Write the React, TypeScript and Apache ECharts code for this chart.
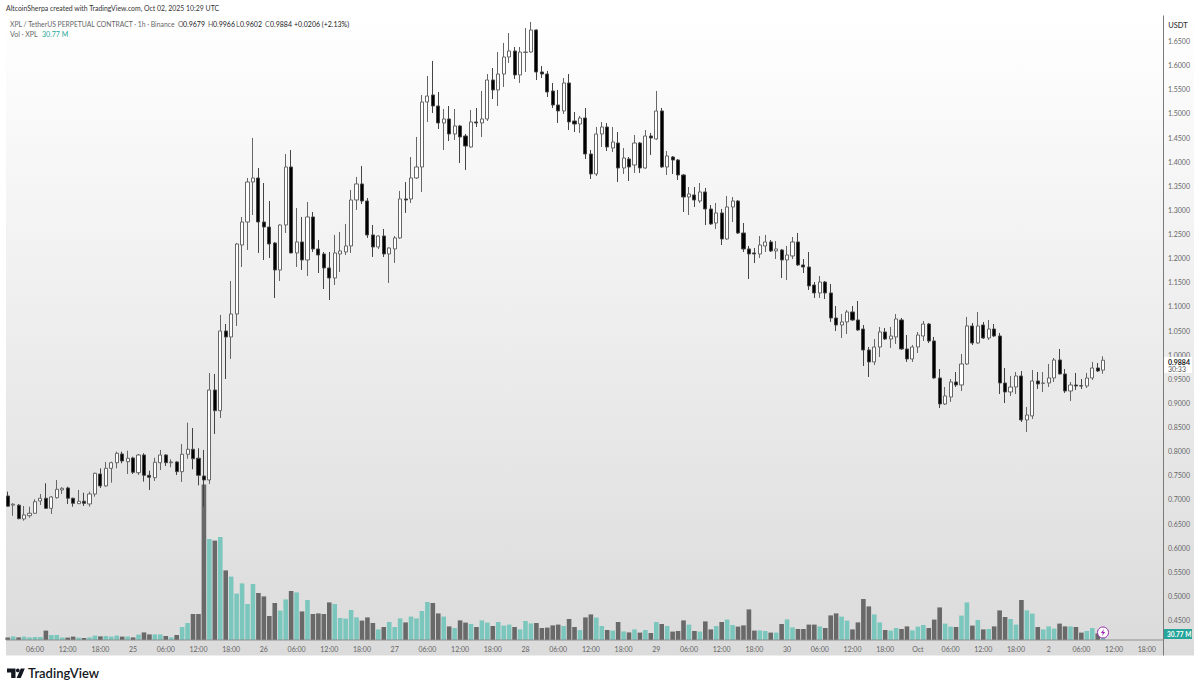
import React, { useEffect, useRef } from "react";
import * as echarts from "echarts";

const opens = [
  0.707,0.688,0.688,0.6594,0.6662,0.6712,0.6967,0.7023,0.6815,0.7035,
  0.7195,0.7236,0.7023,0.6911,0.6961,0.6905,0.7112,0.7526,0.7278,0.7644,
  0.776,0.7941,0.7781,0.7858,0.7553,0.792,0.7499,0.7449,0.776,0.792,
  0.776,0.7775,0.7574,0.7935,0.8038,0.7852,0.7485,0.7402,0.9267,0.8838,
  1.049,1.0366,1.0842,1.2272,1.2749,1.3578,1.3661,1.2749,1.2645,1.2314,
  1.1754,1.2687,1.3889,1.2107,1.2335,1.1962,1.2853,1.219,1.2086,1.1796,
  1.1588,1.2086,1.2127,1.2252,1.3205,1.3537,1.3184,1.248,1.2231,1.2459,
  1.2086,1.219,1.2418,1.3226,1.3226,1.3661,1.3889,1.5236,1.5381,1.5153,
  1.4801,1.4884,1.4573,1.4739,1.4531,1.4303,1.4822,1.4801,1.4884,1.5692,
  1.5485,1.5816,1.6169,1.6293,1.5796,1.6262,1.6272,1.6728,1.5858,1.5816,
  1.5464,1.5174,1.505,1.563,1.4842,1.478,1.4904,1.4158,1.3744,1.4573,
  1.4718,1.4283,1.4386,1.3868,1.4055,1.393,1.4386,1.3868,1.4531,1.4469,
  1.505,1.3889,1.4096,1.4034,1.3723,1.3267,1.3309,1.3184,1.3371,1.3018,
  1.2728,1.2936,1.2397,1.306,1.3184,1.2521,1.219,1.2107,1.2086,1.2252,
  1.2335,1.2148,1.2169,1.1962,1.2045,1.2335,1.1858,1.1816,1.1443,1.1278,
  1.1505,1.1278,1.0759,1.0614,1.0677,1.0884,1.0718,1.0531,1.0096,0.9848,
  1.0158,1.0469,1.0324,1.0366,1.0718,1.0117,0.991,1.0158,1.0386,1.0635,
  1.0283,0.9516,0.8977,0.9122,0.9433,0.9371,0.9806,1.0594,1.0241,1.0614,
  1.0345,1.0531,1.0386,0.9412,0.9226,0.9329,0.9557,0.8646,0.8729,0.9454,
  0.9405,0.9412,0.9516,0.9889,0.9599,0.9246,0.9371,0.9355,0.935,0.9516,
  0.9723,0.9679,
];
const closes = [
  0.686,0.69,0.66,0.6677,0.6712,0.6952,0.7023,0.6815,0.705,0.7209,
  0.723,0.7023,0.6919,0.6961,0.6919,0.7112,0.7541,0.7278,0.7644,0.776,
  0.7955,0.7796,0.7852,0.7562,0.792,0.7499,0.7458,0.7769,0.792,0.776,
  0.7775,0.7574,0.7935,0.8038,0.7843,0.7499,0.7402,0.9267,0.8838,1.049,
  1.0366,1.0842,1.2293,1.2749,1.3578,1.3661,1.2749,1.2645,1.2293,1.1754,
  1.2687,1.3889,1.2107,1.2335,1.1962,1.2853,1.219,1.2065,1.1796,1.1588,
  1.2107,1.2148,1.2252,1.3205,1.3537,1.3184,1.248,1.2231,1.2459,1.2086,
  1.221,1.2418,1.3226,1.3205,1.3661,1.3889,1.5236,1.536,1.5153,1.4801,
  1.4884,1.4573,1.4739,1.4511,1.4324,1.4822,1.4801,1.4884,1.5692,1.5485,
  1.5816,1.6169,1.6293,1.5796,1.6272,1.6272,1.6728,1.5858,1.5816,1.5443,
  1.5174,1.505,1.563,1.4822,1.478,1.4904,1.4158,1.3744,1.4573,1.4718,
  1.4303,1.4407,1.3868,1.4075,1.3889,1.4386,1.3868,1.4531,1.449,1.505,
  1.3889,1.4117,1.4034,1.3723,1.3267,1.3329,1.3205,1.3371,1.3018,1.2708,
  1.2936,1.2397,1.306,1.3184,1.2521,1.219,1.2086,1.2086,1.2272,1.2335,
  1.2148,1.219,1.1962,1.2065,1.2335,1.1858,1.1816,1.1423,1.1278,1.1505,
  1.1278,1.0759,1.0614,1.0677,1.0884,1.0718,1.0511,1.0096,0.9848,1.0158,
  1.0469,1.0324,1.0386,1.0739,1.0117,0.991,1.0158,1.0407,1.0635,1.0283,
  0.9516,0.8977,0.9143,0.9433,0.9371,0.9806,1.0594,1.0241,1.0594,1.0345,
  1.0531,1.0386,0.9412,0.9226,0.9329,0.9557,0.8646,0.8749,0.9454,0.9392,
  0.9412,0.9516,0.9889,0.9599,0.9246,0.9371,0.935,0.935,0.9516,0.9723,
  0.9661,0.9884,
];
const lows = [
  0.685,0.666,0.659,0.6559,0.6621,0.6697,0.6884,0.6801,0.6697,0.7015,
  0.7112,0.6905,0.6849,0.6905,0.6863,0.6849,0.7056,0.7236,0.7263,0.7346,
  0.7644,0.7748,0.7526,0.7526,0.7506,0.7367,0.7195,0.7381,0.7609,0.7692,
  0.7665,0.7506,0.7361,0.7843,0.7624,0.7292,0.6849,0.7319,0.8355,0.8687,
  0.9495,0.991,1.0594,1.1816,1.2169,1.2894,1.2107,1.1962,1.2003,1.1174,
  1.1526,1.2521,1.21,1.1816,1.1754,1.163,1.2127,1.1692,1.136,1.1132,
  1.1443,1.1713,1.2065,1.2107,1.2998,1.3122,1.2418,1.2024,1.219,1.2024,
  1.1485,1.1899,1.24,1.2936,1.3143,1.364,1.3371,1.4822,1.5008,1.4676,
  1.4241,1.4428,1.4449,1.3972,1.3827,1.429,1.4718,1.4511,1.4842,1.5298,
  1.5153,1.5547,1.6044,1.5713,1.563,1.5858,1.626,1.5692,1.5733,1.534,
  1.5112,1.4801,1.4987,1.4656,1.4614,1.4594,1.4055,1.364,1.3702,1.4303,
  1.422,1.42,1.3578,1.3744,1.3599,1.3765,1.3765,1.385,1.4138,1.445,
  1.387,1.3723,1.3744,1.362,1.2956,1.2894,1.306,1.3143,1.2687,1.269,
  1.2604,1.2272,1.238,1.2749,1.25,1.2127,1.1568,1.1899,1.2003,1.2127,
  1.2127,1.1982,1.1588,1.1547,1.1982,1.184,1.1692,1.134,1.1174,1.1174,
  1.1153,1.0677,1.049,1.0345,1.0428,1.07,1.049,0.9765,0.9537,0.9785,
  0.9951,1.0303,1.0138,1.0221,1.01,0.9848,0.9848,1.0034,1.0283,1.0241,
  0.95,0.8894,0.8956,0.9019,0.9329,0.9246,0.979,1.02,1.0225,1.0324,
  1.0303,1.0366,0.9184,0.8998,0.9143,0.9184,0.8604,0.8397,0.8666,0.9288,
  0.9226,0.9329,0.9433,0.959,0.9205,0.9039,0.9267,0.9288,0.9309,0.9475,
  0.964,0.9602,
];
const highs = [
  0.716,0.692,0.69,0.6863,0.6849,0.7002,0.7112,0.7334,0.707,0.7402,
  0.7251,0.7263,0.7035,0.7195,0.7139,0.7159,0.7553,0.7644,0.7775,0.7781,
  0.7989,0.7989,0.8009,0.7885,0.7941,0.7955,0.7595,0.7864,0.8024,0.7935,
  0.7831,0.779,0.8148,0.859,0.848,0.8059,0.8024,0.962,0.9599,1.0822,
  1.0635,1.1526,1.2314,1.2853,1.3661,1.449,1.3868,1.3557,1.3184,1.233,
  1.27,1.4158,1.4241,1.3039,1.2853,1.3163,1.2956,1.2376,1.2127,1.2127,
  1.248,1.2542,1.2708,1.3412,1.3682,1.391,1.3246,1.2687,1.247,1.2604,
  1.2225,1.2459,1.3392,1.3578,1.4096,1.4511,1.5381,1.5775,1.6086,1.5443,
  1.5091,1.5153,1.5091,1.476,1.4573,1.507,1.5112,1.5464,1.5816,1.5941,
  1.6272,1.6459,1.6666,1.6376,1.6376,1.677,1.6894,1.674,1.5982,1.5879,
  1.563,1.5485,1.5733,1.5816,1.5029,1.4946,1.5112,1.4241,1.4718,1.4822,
  1.4801,1.4718,1.4614,1.4283,1.4096,1.4552,1.4407,1.4656,1.4594,1.5464,
  1.5112,1.422,1.4117,1.4055,1.3744,1.3474,1.3474,1.3557,1.3454,1.3101,
  1.3143,1.3018,1.3288,1.3267,1.3205,1.2728,1.2252,1.221,1.2459,1.248,
  1.2376,1.2355,1.219,1.2252,1.2438,1.2521,1.1982,1.2127,1.1505,1.163,
  1.1526,1.1464,1.1008,1.0842,1.0925,1.1008,1.1112,1.0614,1.0158,1.0324,
  1.0573,1.0552,1.0573,1.0842,1.0759,1.0407,1.02,1.0469,1.0697,1.0656,
  1.0366,0.9702,0.9329,0.9495,0.964,1.0013,1.078,1.0656,1.0884,1.0677,
  1.0718,1.0635,1.0449,0.9723,0.9557,0.964,0.9661,0.8915,0.9682,0.964,
  0.964,0.9806,0.993,1.0117,0.9702,0.9433,0.962,0.9495,0.962,0.9848,
  0.9827,0.9966,
];
const volumes = [
  12,18,13,17,13,15,15,47,25,25,
  13,12,17,12,10,13,22,18,20,17,
  22,17,18,13,27,38,28,28,28,20,
  13,25,65,85,130,130,777,505,497,515,
  348,317,232,283,180,280,235,218,120,185,
  147,203,245,238,143,200,130,133,130,188,
  180,110,107,150,113,97,113,85,53,65,
  90,65,108,88,117,108,145,190,185,133,
  117,68,60,98,87,80,65,98,87,70,
  90,72,77,65,53,95,83,85,60,62,
  73,77,70,105,65,50,113,128,112,70,
  50,47,90,43,38,53,37,50,35,90,
  80,70,42,45,98,77,45,42,93,53,
  70,90,102,75,67,73,153,47,48,45,
  37,37,80,103,63,55,55,77,77,68,
  60,123,133,117,97,53,88,205,168,128,
  88,50,47,60,55,68,48,67,75,60,
  102,163,82,67,65,122,188,72,100,53,
  55,68,148,115,105,77,200,148,132,65,
  53,68,57,82,68,68,65,37,45,60,
  33,30.77,
];
const priceTicksHidden = [0.4, 1.7];
const firstHourUtc = Date.UTC(2025, 8, 24, 1);
const slotCount = 212;
const monthStartLabel = "Oct";

const FONT = "Lato, 'Open Sans', sans-serif";
const UP = "#7cc7bd";
const DOWN = "#696969";

const categories: string[] = [];
for (let i = 0; i < slotCount; i++) {
  const d = new Date(firstHourUtc + i * 3600000);
  const h = d.getUTCHours();
  if (h === 0) {
    categories.push(d.getUTCDate() === 1 ? monthStartLabel : String(d.getUTCDate()));
  } else {
    categories.push(String(h).padStart(2, "0") + ":00");
  }
}

echarts.graphic.registerShape(
  "tvT",
  echarts.graphic.extendPath("M0 0H8.5V9.5H4.2V4H0Z", {})
);

function txt(text: string, x: number, y: number, fill: string, size = 7, weight = 400, align = "left") {
  return {
    type: "text",
    z: 100,
    silent: true,
    style: {
      text, x, y, fill,
      font: `${weight} ${size}px ${FONT}`,
      textAlign: align,
      textVerticalAlign: "middle",
    },
  };
}

export default function App() {
  const ref = useRef<HTMLDivElement>(null);
  useEffect(() => {
    document.body.style.margin = "0";
    const chart = echarts.init(ref.current!, undefined, { renderer: "svg" });
    const candle = opens.map((o, i) => [o, closes[i], lows[i], highs[i]]);
    const left = 5;
    const width = slotCount * 5.45;
    chart.setOption({
      animation: false,
      backgroundColor: "#ffffff",
      grid: [
        { left, width, top: 16.875, height: 627.25 },
        { left, width, top: 15, height: 625 },
      ],
      xAxis: [
        { type: "category", gridIndex: 0, data: categories, show: false },
        {
          type: "category",
          gridIndex: 1,
          data: categories,
          axisLine: { show: false },
          axisTick: { show: false },
          splitLine: { show: false },
          axisLabel: {
            interval: (i: number) => (i + 1) % 6 === 0,
            color: "#666666",
            fontSize: 7,
            fontFamily: FONT,
            margin: 5,
            hideOverlap: false,
          },
        },
      ],
      yAxis: [
        {
          type: "value",
          gridIndex: 0,
          position: "right",
          offset: 2.6,
          min: 0.4,
          max: 1.7,
          interval: 0.05,
          axisLine: { show: false },
          axisTick: { show: false },
          splitLine: { show: false },
          axisLabel: {
            color: "#666666",
            fontSize: 7,
            fontFamily: FONT,
            margin: 5,
            formatter: (v: number) =>
              priceTicksHidden.some((p) => Math.abs(p - v) < 1e-6) ? "" : v.toFixed(4),
          },
        },
        { type: "value", gridIndex: 1, min: 0, max: 3125, show: false },
      ],
      series: [
        {
          type: "bar",
          name: "Vol",
          xAxisIndex: 1,
          yAxisIndex: 1,
          barWidth: 4.6,
          data: volumes.map((v, i) => ({
            value: v,
            itemStyle: { color: closes[i] >= opens[i] ? UP : DOWN },
          })),
          z: 2,
        },
        {
          type: "candlestick",
          name: "XPL",
          xAxisIndex: 0,
          yAxisIndex: 0,
          barWidth: 3.6,
          data: candle,
          itemStyle: {
            color: "#ffffff",
            color0: "#000000",
            borderColor: "#666666",
            borderColor0: "#444444",
            borderWidth: 1,
          },
          z: 3,
        },
      ],
      graphic: {
        elements: [
          {
            type: "rect",
            z: -10,
            silent: true,
            shape: { x: 6, y: 15.5, width: 1188, height: 640 },
            style: {
              fill: new echarts.graphic.LinearGradient(0, 0, 0, 1, [
                { offset: 0, color: "#ffffff" },
                { offset: 1, color: "#dbdbdb" },
              ]),
            },
          },
          { type: "line", z: 50, silent: true, shape: { x1: 6, y1: 640, x2: 1163, y2: 640 }, style: { stroke: "#8f8f8f", lineWidth: 1 } },
          { type: "line", z: 50, silent: true, shape: { x1: 1163.5, y1: 15.5, x2: 1163.5, y2: 655.5 }, style: { stroke: "#7a7a7a", lineWidth: 1 } },
          txt("AltcoinSherpa created with TradingView.com, Oct 02, 2025 10:29 UTC", 6, 8, "#333333", 6.9),
          txt("XPL / TetherUS PERPETUAL CONTRACT · 1h · Binance", 10, 24, "#666666", 6.8),
          txt("O", 178, 24, "#666666"),
          txt("0.9679", 183, 24, "#222222"),
          txt("H", 208, 24, "#666666"),
          txt("0.9966", 213, 24, "#222222"),
          txt("L", 236, 24, "#666666"),
          txt("0.9602", 240, 24, "#222222"),
          txt("C", 265, 24, "#666666"),
          txt("0.9884", 270, 24, "#222222"),
          txt("+0.0206 (+2.13%)", 294, 24, "#222222"),
          txt("Vol · XPL", 10, 34, "#666666"),
          txt("30.77 M", 42, 34, "#26a69a"),
          txt("USDT", 1178, 25, "#333333", 7.5, 500, "center"),
          { type: "rect", z: 60, silent: true, shape: { x: 1164, y: 357, width: 28, height: 16 }, style: { fill: "#ffffff" } },
          txt("0.9884", 1168, 361.5, "#222222", 7, 700),
          txt("30:33", 1168, 369, "#555555", 7, 400),
          { type: "rect", z: 60, silent: true, shape: { x: 1164, y: 629, width: 28, height: 10 }, style: { fill: "#26a69a" } },
          txt("30.77 M", 1167, 634, "#ffffff", 6.5, 700),
          { type: "circle", z: 70, silent: true, shape: { cx: 1103, cy: 632.5, r: 5.5 }, style: { fill: "#ffffff", stroke: "#9c27b0", lineWidth: 1 } },
          { type: "polygon", z: 71, silent: true, shape: { points: [[1104, 629], [1100.8, 633], [1102.8, 633], [1102, 636], [1105.2, 632], [1103.2, 632]] }, style: { fill: "#9c27b0" } },
          { type: "tvT", z: 100, silent: true, x: 7, y: 668.5, style: { fill: "#131722" } },
          { type: "circle", z: 100, silent: true, shape: { cx: 17.8, cy: 670.4, r: 1.9 }, style: { fill: "#131722" } },
          { type: "polygon", z: 100, silent: true, shape: { points: [[20.8, 668.5], [24.8, 668.5], [20.8, 678], [16.6, 678]] }, style: { fill: "#131722" } },
          txt("TradingView", 28, 673, "#131722", 13, 600),
        ],
      },
    });
    return () => chart.dispose();
  }, []);
  return <div ref={ref} style={{ width: 1200, height: 690 }} />;
}
